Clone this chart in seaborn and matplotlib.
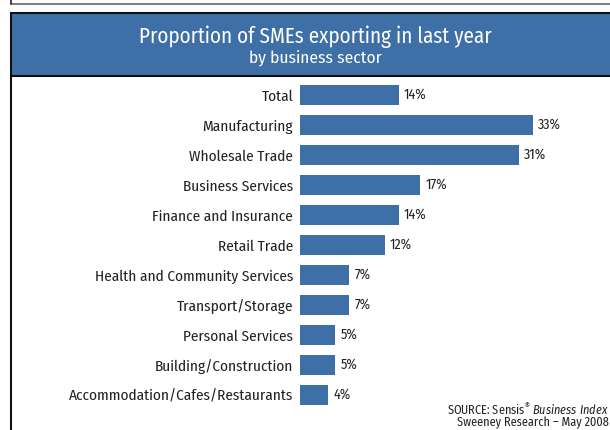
import matplotlib
matplotlib.use("Agg")
import matplotlib.pyplot as plt
from matplotlib.patches import Rectangle
from matplotlib.lines import Line2D
import seaborn as sns
import pandas as pd

sectors = [
    "Total",
    "Manufacturing",
    "Wholesale Trade",
    "Business Services",
    "Finance and Insurance",
    "Retail Trade",
    "Health and Community Services",
    "Transport/Storage",
    "Personal Services",
    "Building/Construction",
    "Accommodation/Cafes/Restaurants",
]
share_pct = [14, 33, 31, 17, 14, 12, 7, 7, 5, 5, 4]

title_line1 = "Proportion of SMEs exporting in last year"
title_line2 = "by business sector"
source_line1 = r"SOURCE: Sensis$^{\mathrm{®}}$ $\mathit{Business\ Index}$"
source_line2 = "Sweeney Research \u2013 May 2008"

sns.set_style("white")
base_font = "Fira Sans Condensed"
plt.rcParams["font.family"] = [base_font, "DejaVu Sans"]
plt.rcParams["mathtext.fontset"] = "custom"
plt.rcParams["mathtext.rm"] = base_font
plt.rcParams["mathtext.it"] = base_font + ":italic"

W, H = 610, 430
blue = "#3e6fa6"
text_col = "#222222"

fig = plt.figure(figsize=(W / 100, H / 100), dpi=100)

def fx(px):
    return px / W

def fy(py):
    return 1 - py / H

# frame of the panel above, and this panel's frame
fig.add_artist(Line2D([fx(11), 1.0], [fy(4), fy(4)], color="#666666", lw=1.2, transform=fig.transFigure))
fig.add_artist(Line2D([fx(11), fx(11)], [fy(0), fy(4)], color="#222222", lw=1.2, transform=fig.transFigure))
fig.add_artist(Line2D([fx(11), fx(11)], [fy(76), 0.0], color="#111111", lw=1.5, transform=fig.transFigure))

# title banner
fig.add_artist(Rectangle((fx(11), fy(76)), 1.0, fy(13) - fy(76), facecolor=blue,
                         edgecolor="#111111", lw=1.5, transform=fig.transFigure))
fig.text(fx(315), fy(37), title_line1, ha="center", va="center", color="white", fontsize=15.2)
fig.text(fx(315), fy(58), title_line2, ha="center", va="center", color="white", fontsize=12.5)

# bar chart area
px_per_pct = 7.07
ax_left, ax_right = 300, 610
ax_top, ax_bottom = 80, 410
ax = fig.add_axes([fx(ax_left), fy(ax_bottom), fx(ax_right - ax_left), (ax_bottom - ax_top) / H])

df = pd.DataFrame({"sector": sectors, "share": share_pct})
sns.barplot(data=df, x="share", y="sector", orient="h", color=blue, saturation=1,
            width=0.67, linewidth=0, ax=ax)

ax.set_xlim(0, (ax_right - ax_left) / px_per_pct)
ax.set_ylim(len(sectors) - 0.5, -0.5)
for s in ax.spines.values():
    s.set_visible(False)
ax.set_xticks([])
ax.set_xlabel("")
ax.set_ylabel("")
ax.tick_params(axis="y", length=0, pad=5, labelsize=11, labelcolor=text_col)

for i, v in enumerate(share_pct):
    ax.text(v + 0.7, i, f"{v}%", va="center", ha="left", fontsize=10, color=text_col)

fig.text(fx(609), fy(410), source_line1, ha="right", va="center", fontsize=8.8, color=text_col)
fig.text(fx(609), fy(423), source_line2, ha="right", va="center", fontsize=8.8, color=text_col)

fig.savefig("out.png", dpi=100)
